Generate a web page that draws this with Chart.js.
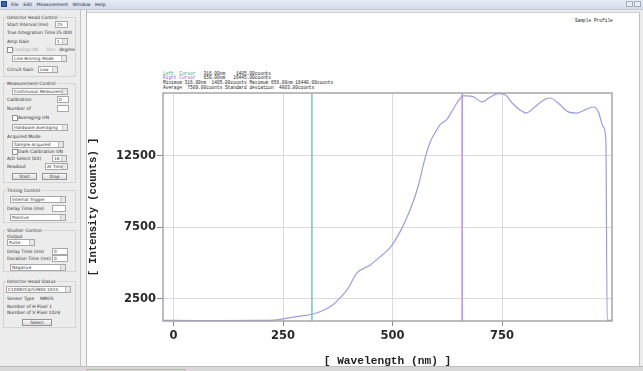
<!DOCTYPE html>
<html>
<head>
<meta charset="utf-8">
<script src="https://cdn.jsdelivr.net/npm/chart.js@4.4.1/dist/chart.umd.min.js"></script>
<style>
  html, body { margin: 0; padding: 0; width: 643px; height: 371px; overflow: hidden; background: #ececec; font-family: "DejaVu Sans", sans-serif; }
  #menubar { position: absolute; left: 0; top: 0; width: 643px; height: 9px; background: linear-gradient(#e6ecf5, #d2dbe8); border-bottom: 1px solid #c2cad6; }
  #menubar .icon { position: absolute; left: 1px; top: 1px; width: 6px; height: 6px; background: #3a62a8; border: 1px solid #20407a; box-sizing: border-box; }
  #menubar .menu { position: absolute; left: 11px; top: 0; font-size: 4.6px; line-height: 9px; color: #223; word-spacing: 3px; }
  #menubar .wbtn { position: absolute; top: 1px; width: 7px; height: 6px; border: 1px solid #aab; box-sizing: border-box; background: #e8edf4; }
  #sidebar { position: absolute; left: 0; top: 10px; width: 80px; height: 356px; background: #ececec; }
  .lbl { position: absolute; font-size: 4.5px; color: #333; white-space: nowrap; line-height: 5px; }
  .dis { color: #a8a8a8; }
  .grp { position: absolute; border: 1px solid #d4d4d4; box-sizing: border-box; }
  .sel, .inp, .btn { position: absolute; height: 7px; box-sizing: border-box; border: 1px solid #a8a8a8; background: #fff; font-size: 4.3px; line-height: 5px; padding-left: 1px; white-space: nowrap; overflow: hidden; color: #333; }
  .sel::after { content: ""; position: absolute; right: 0; top: 0; width: 4px; height: 5px; background: #e6e6e6; border-left: 1px solid #c4c4c4; }
  .btn { background: linear-gradient(#f8f8f8, #dcdcdc); border-color: #959595; text-align: center; padding: 0; }
  .chk { position: absolute; width: 4px; height: 4px; border: 1px solid #8f8f8f; background: #fff; }
  #divider { position: absolute; left: 80px; top: 10px; width: 5px; height: 356px; border-left: 1px solid #c4c4c4; border-right: 1px solid #b8b8b8; background: #f2f2f2; }
  #frame { position: absolute; left: 87px; top: 12px; width: 553px; height: 354px; background: #fff; border-top: 1px solid #c8cdd6; border-right: 1px solid #c0c0c0; box-sizing: border-box; }
  #chartbox { position: absolute; left: 87px; top: 13px; width: 553px; height: 354px; }
  .mono { position: absolute; font-family: "Liberation Mono", monospace; font-size: 4.5px; line-height: 4.8px; white-space: pre; color: #222; }
  #statusbar { position: absolute; left: 0; top: 366px; width: 643px; height: 5px; background: #d8d8d8; border-top: 1px solid #bdbdbd; }
  #statusbar .mark { position: absolute; left: 86px; top: 2px; width: 100px; height: 1px; background: #e8a0a0; }
</style>
</head>
<body>
<div id="menubar">
  <div class="icon"></div>
  <div class="menu">File Edit Measurement Window Help</div>
  <div class="wbtn" style="left:626px"></div>
  <div class="wbtn" style="left:634px"></div>
</div>
<div id="sidebar"></div>
<div id="divider"></div>
<div id="frame"></div>
<div class="mono" style="left:575px; top:19px;">Sample Profile</div>
<div class="mono" style="left:163px; top:71.5px;"><span style="color:#3aa878">Left  Cursor</span>   316.00nm    1405.00counts
<span style="color:#9a5ce0">Right Cursor</span>   659.00nm   16445.00counts
Minimum 316.00nm  1405.00counts Maximum 656.00nm 16440.00counts
Average  7509.00counts Standard deviation  4803.00counts</div>
<div id="chartbox"><canvas id="spectrum"></canvas></div>
<div id="statusbar"><div class="mark"></div></div>

<script>
// spectrum
const wavelength = [-24, 0, 100, 200, 230, 250, 280, 318, 345, 364, 380, 396, 419, 449, 471, 494, 517, 540, 558, 575, 586, 601, 609, 624, 639, 654, 661, 670, 684, 704, 723, 741, 757, 773, 791, 806, 822, 845, 860, 878, 901, 920, 944, 959, 970, 981, 987, 990, 1001]
const counts = [1000, 1000, 990, 1000, 1020, 1110, 1260, 1450, 1750, 2090, 2570, 3130, 4320, 4880, 5440, 6070, 7190, 8720, 10330, 12430, 13480, 14320, 14700, 15050, 15800, 16500, 16700, 16700, 16650, 16280, 16620, 16850, 16780, 16200, 15720, 15510, 15850, 16410, 16550, 16200, 15580, 15500, 15790, 15920, 15580, 14530, 13620, 1000, 1000]

// cursors (nm)
const leftCursor = 316
const rightCursor = 659

// axes
const xTicks = [0, 250, 500, 750]
const yTicks = [2500, 7500, 12500]
const xMin = -24, xMax = 1001
const yMin = 960, yMax = 16900

// --- side panel (just the look of the controls) ---
const panel = document.getElementById("sidebar")
function add(cls, x, y, w, text, extra) {
  const el = document.createElement("div")
  el.className = cls + (extra ? " " + extra : "")
  el.style.left = x + "px"
  el.style.top = (y - 10) + "px"
  if (w) el.style.width = w + "px"
  if (text) el.textContent = text
  panel.appendChild(el)
  return el
}
function group(x, y, w, h, title) {
  const g = add("grp", x, y, w)
  g.style.height = h + "px"
  const t = add("lbl", x + 3, y - 2.5, 0, title)
  t.style.background = "#ececec"
  t.style.padding = "0 1px"
}

group(3, 17, 73, 60, "Detector Head Control")
add("lbl", 7, 22, 0, "Start Interval (ms)")
add("inp", 55, 21, 13, "25")
add("lbl", 7, 30, 0, "True Integration Time")
add("lbl", 56, 30, 0, "25.000")
add("lbl", 7, 39, 0, "Amp Gain")
add("sel", 55, 38, 13, "1")
add("chk", 7, 47, 0, "", "dis")
add("lbl", 13, 47, 0, "Cooling ON", "dis")
add("lbl", 46, 47, 0, "Tem", "dis")
add("lbl", 59, 47, 0, "degree")
add("sel", 12, 55, 55, "Line Binning Mode")
add("lbl", 7, 67, 0, "Circuit Gain")
add("sel", 38, 66, 20, "Low", "dis")

group(3, 83, 73, 100, "Measurement Control")
add("sel", 12, 88, 56, "Continuous Measurement")
add("lbl", 7, 97, 0, "Calibration")
add("inp", 57, 96, 12, "0")
add("lbl", 7, 106, 0, "Number of")
add("inp", 57, 105, 12, "")
add("chk", 12, 115, 0, "")
add("lbl", 18, 115, 0, "Averaging ON")
add("sel", 12, 124, 56, "Hardware Averaging")
add("lbl", 7, 134, 0, "Acquired Mode")
add("sel", 12, 141, 52, "Sample Acquired")
add("chk", 12, 148.5, 0, "")
add("lbl", 18, 148.5, 0, "Dark Calibration ON")
add("lbl", 7, 156, 0, "A/D Select (bit)")
add("sel", 52, 155, 15, "16", "dis")
add("lbl", 7, 164, 0, "Readout")
add("sel", 45, 163, 23, "At Time")
add("btn", 12, 173, 25, "Start", "dis")
add("btn", 42, 173, 25, "Stop", "dis")

group(3, 190, 73, 33, "Timing Control")
add("sel", 10, 196, 56, "Internal Trigger")
add("lbl", 7, 206, 0, "Delay Time (ms)")
add("inp", 52, 205, 14, "")
add("sel", 10, 214, 56, "Positive")

group(3, 230, 73, 42, "Shutter Control")
add("lbl", 7, 234, 0, "Output")
add("sel", 7, 239, 28, "Pulse")
add("lbl", 7, 249, 0, "Delay Time (ms)")
add("inp", 52, 248, 16, "0")
add("lbl", 7, 256, 0, "Duration Time (ms)")
add("inp", 52, 255, 16, "0")
add("sel", 10, 264, 56, "Negative", "dis")

group(3, 281, 73, 47, "Detector Head Status")
add("sel", 6, 286, 65, "C10082CA/S3904 1024")
add("lbl", 7, 296, 0, "Sensor Type")
add("lbl", 40, 296, 0, "NMOS")
add("lbl", 7, 304, 0, "Number of H Pixel 1")
add("lbl", 7, 310, 0, "Number of V Pixel 1024")
add("btn", 22, 319, 30, "Select", "dis")

// --- chart ---
// grey frame around the plot area
const plotFrame = {
  id: "plotFrame",
  afterDatasetsDraw(chart) {
    const { ctx, chartArea: a } = chart
    ctx.save()
    ctx.strokeStyle = "#a6a6a6"
    ctx.lineWidth = 1.5
    ctx.strokeRect(a.left, a.top, a.right - a.left, a.bottom - a.top)
    ctx.restore()
  },
}

const ctx = document.getElementById("spectrum").getContext("2d")
new Chart(ctx, {
  type: "line",
  data: {
    datasets: [
      {
        label: "Left Cursor",
        data: [{ x: leftCursor, y: yMin }, { x: leftCursor, y: yMax }],
        borderColor: "rgb(122, 200, 172)",
        borderWidth: 1.5,
        pointRadius: 0,
      },
      {
        label: "Right Cursor",
        data: [{ x: rightCursor, y: yMin }, { x: rightCursor, y: yMax }],
        borderColor: "rgb(182, 142, 240)",
        borderWidth: 1.5,
        pointRadius: 0,
      },
      {
        label: "Intensity",
        data: wavelength.map((w, i) => ({ x: w, y: counts[i] })),
        borderColor: "rgb(156, 156, 230)",
        borderWidth: 1.2,
        pointRadius: 0,
        cubicInterpolationMode: "monotone",
      },
    ],
  },
  options: {
    responsive: true,
    maintainAspectRatio: false,
    animation: false,
    layout: { padding: { left: 0, right: 28, top: 80, bottom: 0 } },
    plugins: { legend: { display: false }, tooltip: { enabled: false } },
    scales: {
      x: {
        type: "linear",
        min: xMin,
        max: xMax,
        afterBuildTicks: (scale) => { scale.ticks = xTicks.map((v) => ({ value: v })) },
        afterFit: (scale) => { scale.height = 46 },
        grid: { color: "rgb(218, 218, 228)", tickColor: "#8a8a8a", tickLength: 5 },
        border: { display: false },
        ticks: {
          color: "#2a2a2a",
          padding: 3,
          maxRotation: 0,
          callback: (v) => String(v),
          font: { family: "DejaVu Sans", weight: "bold", size: 11.5 },
        },
        title: {
          display: true,
          text: "[ Wavelength (nm) ]",
          color: "#222",
          padding: 0,
          font: { family: "Liberation Mono", weight: "bold", size: 11.2, lineHeight: 1.1 },
        },
      },
      y: {
        type: "linear",
        min: yMin,
        max: yMax,
        afterBuildTicks: (scale) => { scale.ticks = yTicks.map((v) => ({ value: v })) },
        afterFit: (scale) => { scale.width = 76 },
        grid: { color: "rgb(218, 218, 228)", tickColor: "#8a8a8a", tickLength: 6 },
        border: { display: false },
        ticks: {
          color: "#2a2a2a",
          padding: 1,
          callback: (v) => String(v),
          font: { family: "DejaVu Sans", weight: "bold", size: 11.5 },
        },
        title: {
          display: true,
          text: "[ Intensity (counts) ]",
          color: "#222",
          padding: 0,
          font: { family: "Liberation Mono", weight: "bold", size: 10.5, lineHeight: 1.2 },
        },
      },
    },
  },
  plugins: [plotFrame],
})
</script>
</body>
</html>
